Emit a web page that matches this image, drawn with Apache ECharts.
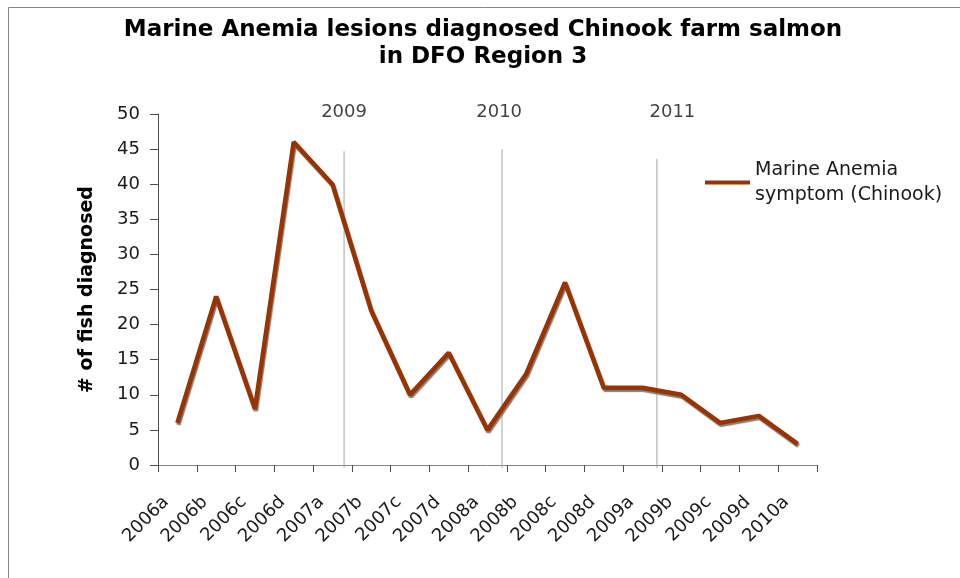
<!DOCTYPE html>
<html>
<head>
<meta charset="utf-8">
<script src="https://cdn.jsdelivr.net/npm/echarts@6/dist/echarts.min.js"></script>
<style>
html,body{margin:0;padding:0;background:#fff;}
#chart{width:960px;height:578px;}
</style>
</head>
<body>
<div id="chart"></div>
<script>
const categories = ['2006a','2006b','2006c','2006d','2007a','2007b','2007c','2007d','2008a','2008b','2008c','2008d','2009a','2009b','2009c','2009d','2010a'];
const seriesName = 'Marine Anemia\nsymptom (Chinook)';
const values = [6, 24, 8, 46, 40, 22, 10, 16, 5, 13, 26, 11, 11, 10, 6, 7, 3];
const yTicks = { min: 0, max: 50, interval: 5 };
// year divider lines, in category units along the axis (0 = left edge, 17 = right edge)
const dividerX = [4.80, 8.875, 12.87];
const dividerTop = [44.7, 45.0, 43.6];
const dividerLabels = ['2009', '2010', '2011'];
const dividerLabelX = [4.80, 8.80, 13.27];
const dividerLabelY = 50.3;

const FONT = 'DejaVu Sans, Verdana, sans-serif';
const chart = echarts.init(document.getElementById('chart'));

const dividerSeries = dividerX.map((x, i) => ({
  type: 'line',
  xAxisIndex: 1,
  yAxisIndex: 0,
  data: [[x, -0.4], [x, dividerTop[i]]],
  symbol: 'none',
  clip: false,
  silent: true,
  lineStyle: { color: '#a6a6a6', width: 1 },
  z: 1
}));

const labelSeries = {
  type: 'scatter',
  xAxisIndex: 1,
  yAxisIndex: 0,
  symbolSize: 0,
  silent: true,
  clip: false,
  data: dividerLabels.map((t, i) => ({ name: t, value: [dividerLabelX[i], dividerLabelY] })),
  label: {
    show: true,
    position: 'inside',
    formatter: p => p.name,
    fontFamily: FONT,
    fontSize: 18,
    color: '#111'
  }
};

chart.setOption({
  animation: false,
  backgroundColor: '#fff',
  title: {
    text: 'Marine Anemia lesions diagnosed Chinook farm salmon\nin DFO Region 3',
    left: 483,
    top: 17,
    textAlign: 'center',
    padding: 0,
    textStyle: { fontFamily: FONT, fontSize: 23, fontWeight: 'bold', color: '#000', lineHeight: 27 }
  },
  graphic: [{
    type: 'rect',
    shape: { x: 8.5, y: 7.5, width: 1000, height: 1000 },
    style: { fill: 'none', stroke: '#868686', lineWidth: 1 },
    silent: true
  }],
  legend: {
    left: 705,
    top: 145,
    padding: 0,
    itemWidth: 45,
    itemHeight: 4,
    data: [{ name: seriesName, icon: 'rect' }],
    textStyle: { fontFamily: FONT, fontSize: 19, color: '#1a1a1a', lineHeight: 25, padding: [25, 0, 0, 0] }
  },
  grid: { left: 158, right: 143, top: 114, bottom: 113, containLabel: false },
  xAxis: [{
    type: 'category',
    data: categories,
    boundaryGap: true,
    axisLine: { lineStyle: { color: '#868686', width: 1 } },
    axisTick: { show: true, length: 7, inside: false, alignWithLabel: false, lineStyle: { color: '#4d4d4d' } },
    axisLabel: { rotate: 45, interval: 0, margin: 23, padding: [0, 16, 0, 0], fontFamily: FONT, fontSize: 18, color: '#1a1a1a' },
    splitLine: { show: false }
  }, {
    type: 'value',
    min: 0,
    max: 17,
    show: false
  }],
  yAxis: {
    type: 'value',
    min: yTicks.min,
    max: yTicks.max,
    interval: yTicks.interval,
    name: '# of fish diagnosed',
    nameLocation: 'middle',
    nameGap: 61,
    nameTextStyle: { fontFamily: FONT, fontSize: 19, fontWeight: 'bold', color: '#000' },
    axisLine: { show: true, lineStyle: { color: '#4d4d4d', width: 1 } },
    axisTick: { show: true, length: 8, lineStyle: { color: '#4d4d4d' } },
    axisLabel: { margin: 18, fontFamily: FONT, fontSize: 18, color: '#1a1a1a' },
    splitLine: { show: false }
  },
  series: [
    ...dividerSeries,
    labelSeries,
    {
      name: seriesName,
      type: 'line',
      data: values,
      symbol: 'none',
      color: '#993300',
      lineStyle: {
        color: '#993300',
        width: 4.5,
        shadowColor: 'rgba(110,110,110,0.9)',
        shadowBlur: 1,
        shadowOffsetX: 1,
        shadowOffsetY: 2
      },
      z: 3
    }
  ]
});
</script>
</body>
</html>
